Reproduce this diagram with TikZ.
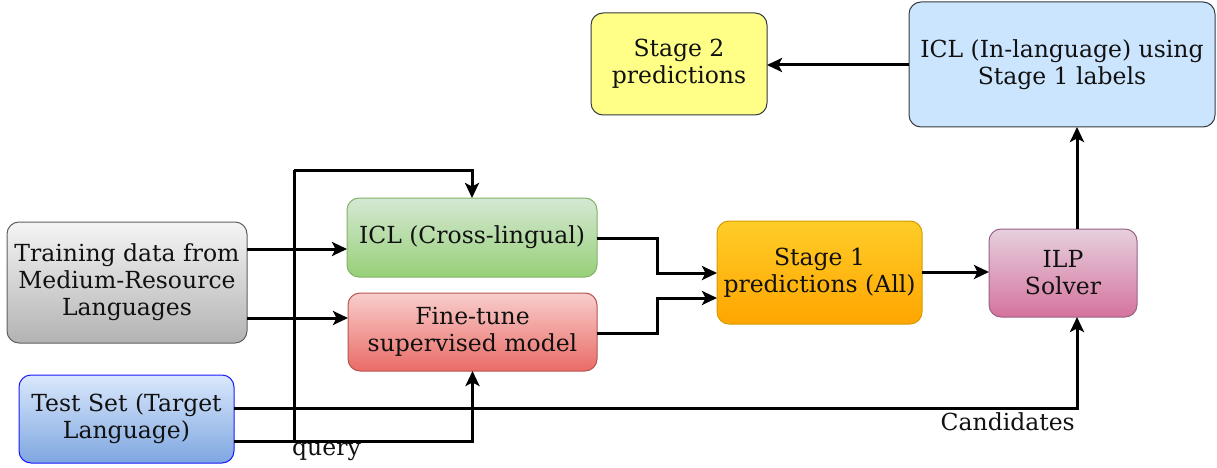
\documentclass[tikz,border=0pt]{standalone}
\usepackage{fontspec}
\setmainfont{DejaVu Serif}
\usetikzlibrary{arrows.meta,calc}
\definecolor{txt}{HTML}{111111}
\tikzset{
  box/.style={draw, rounded corners=12pt, line width=1pt, align=center, inner sep=0pt, outer sep=0pt,
    text=txt, font=\fontsize{23.5}{27}\selectfont},
  arr/.style={line width=3pt, -{Stealth[length=15pt,width=14pt,inset=3.5pt]}, draw=black},
  ln/.style={line width=3pt, draw=black},
  lbl/.style={text=txt, font=\fontsize{23.5}{27}\selectfont, inner sep=0pt},
}
\begin{document}
\begin{tikzpicture}[x=1pt,y=-1pt]
\useasboundingbox (0,0) rectangle (1217,468);
% nodes
\node[box, draw=gray!75!black, top color=white!96!black, bottom color=white!70!black,
  minimum width=240, minimum height=121] (train) at (127,282.5) {Training data from\\Medium-Resource\\Languages};
\node[box, draw=blue!90!white, top color={rgb,255:red,218;green,232;blue,252}, bottom color={rgb,255:red,126;green,166;blue,224},
  minimum width=215, minimum height=88] (test) at (126.5,419) {Test Set (Target\\Language)};
\node[box, draw={rgb,255:red,130;green,179;blue,102}, top color={rgb,255:red,213;green,232;blue,212}, bottom color={rgb,255:red,151;green,208;blue,119},
  minimum width=250, minimum height=79] (icl) at (472,237.5) {ICL (Cross-lingual)};
\node[box, draw={rgb,255:red,184;green,84;blue,80}, top color={rgb,255:red,248;green,206;blue,204}, bottom color={rgb,255:red,234;green,107;blue,102},
  minimum width=249, minimum height=78] (ft) at (472.5,332) {Fine-tune\\supervised model};
\node[box, draw={rgb,255:red,215;green,155;blue,0}, top color={rgb,255:red,255;green,205;blue,40}, bottom color={rgb,255:red,255;green,165;blue,0},
  minimum width=205, minimum height=103] (s1) at (819.5,272.5) {Stage 1\\predictions (All)};
\node[box, draw={rgb,255:red,153;green,97;blue,133}, top color={rgb,255:red,230;green,208;blue,222}, bottom color={rgb,255:red,213;green,115;blue,157},
  minimum width=148, minimum height=88] (ilp) at (1063,273) {ILP\\Solver};
\node[box, draw={rgb,255:red,54;green,57;blue,61}, fill={rgb,255:red,255;green,255;blue,136},
  minimum width=176, minimum height=102] (s2) at (679,64) {Stage 2\\predictions};
\node[box, draw={rgb,255:red,54;green,57;blue,61}, fill={rgb,255:red,204;green,229;blue,255},
  minimum width=306, minimum height=125] (icl2) at (1062,64.5) {ICL (In-language) using\\Stage 1 labels};
% connectors
\draw[arr] (train.east |- 0,249) -- (icl.west |- 0,249);
\draw[arr] (train.east |- 0,318) -- (ft.west |- 0,318);
\draw[arr] (test.east |- 0,408) -| (ilp.south -| 1077,0);
\draw[arr] (test.east |- 0,441) -| (ft.south);
\coordinate (qb) at (294,441);
\draw[ln] (qb) -- (294,170);
\draw[arr] (294,170) -| (icl.north);
\draw[arr] (icl.east |- 0,238) -- (657,238) |- (s1.west |- 0,273);
\draw[arr] (ft.east |- 0,333) -- (657,333) |- (s1.west |- 0,298);
\draw[arr] (s1.east |- 0,272) -- (ilp.west |- 0,272);
\draw[arr] (ilp.north -| 1077,0) -- (icl2.south -| 1077,0);
\draw[arr] (icl2.west |- 0,65) -- (s2.east |- 0,65);
% labels
\node[lbl, anchor=east] (cand) at (1075,422) {Candidates};
\node[lbl, anchor=west] (query) at (292,452) {query};
\end{tikzpicture}
\end{document}
